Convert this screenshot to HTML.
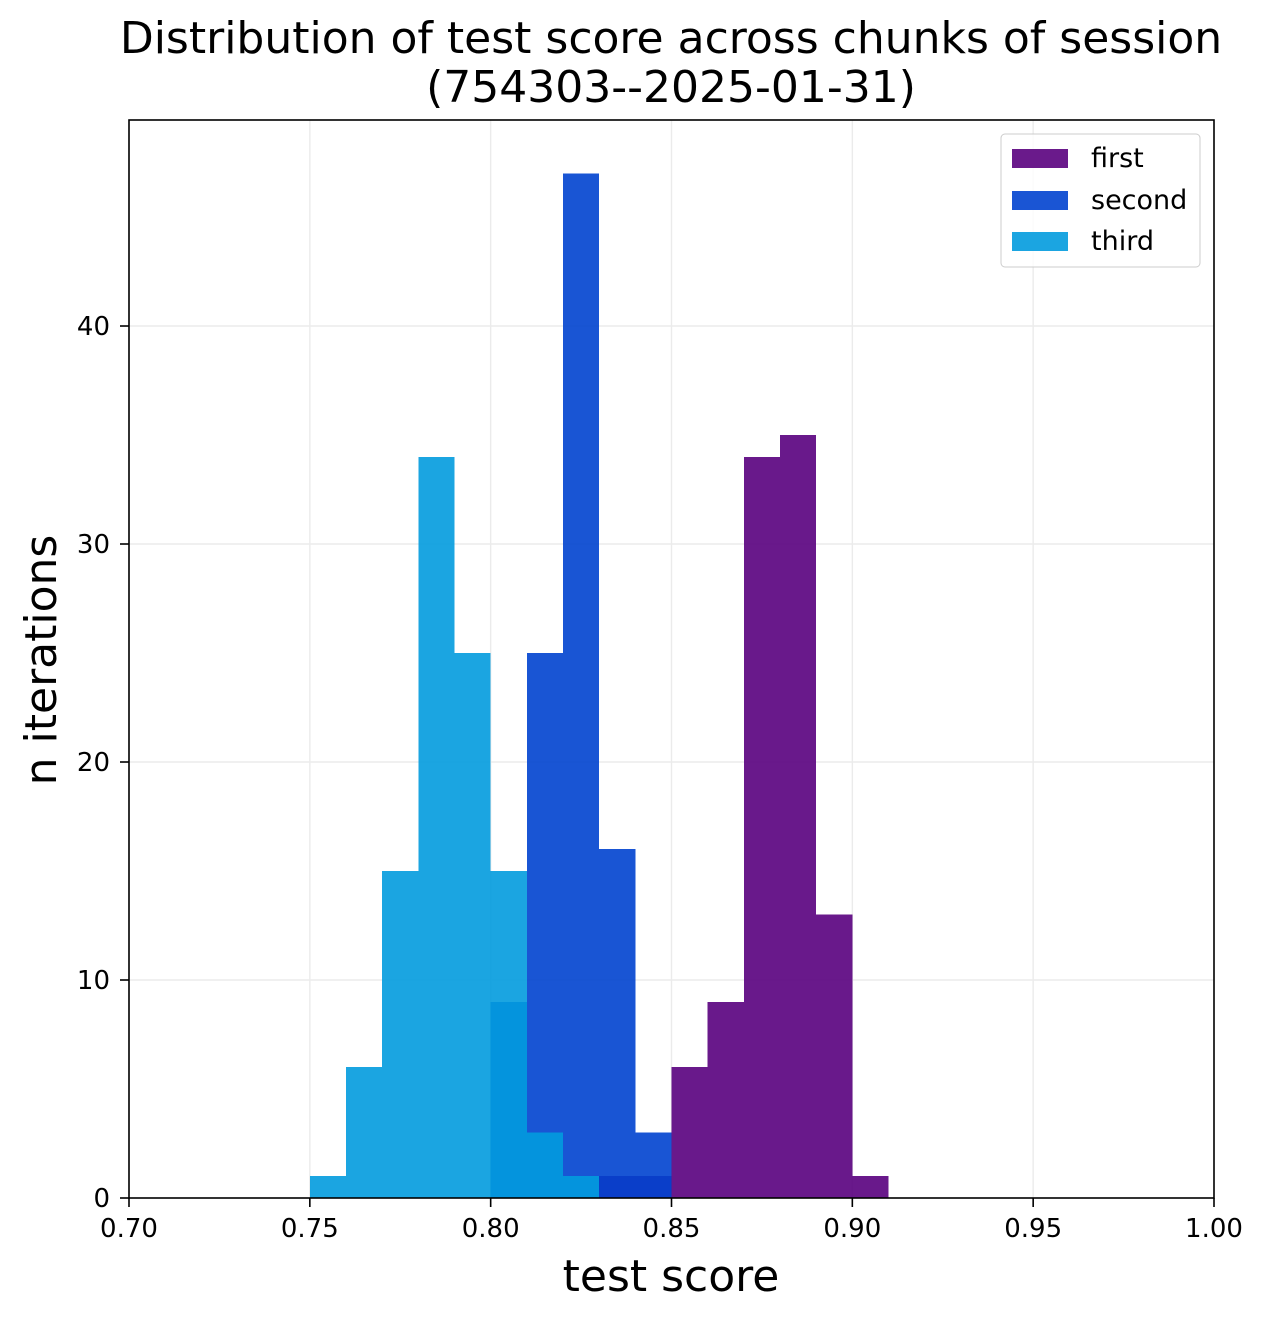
<!DOCTYPE html>
<html><head><meta charset="utf-8"><style>
body{margin:0;background:#fff;}
svg text{font-family:"DejaVu Sans","Liberation Sans",sans-serif;}
</style></head><body>
<svg id="chart" width="1265" height="1320" xmlns="http://www.w3.org/2000/svg">
<text x="671" y="53" font-size="44" text-anchor="middle">Distribution of test score across chunks of session</text>
<text x="671" y="102" font-size="44" text-anchor="middle">(754303--2025-01-31)</text>
<g id="grid"></g>
<g id="bars" shape-rendering="crispEdges"></g>
<rect x="129" y="120" width="1085" height="1078" fill="none" stroke="#000" stroke-width="1.6"/>
<g id="ticks"></g>
<text x="671" y="1291" font-size="44" text-anchor="middle">test score</text>
<text transform="translate(56,660) rotate(-90)" font-size="44" text-anchor="middle">n iterations</text>
<g>
<rect x="1001" y="134" width="199" height="133" rx="4" fill="#fff" fill-opacity="0.8" stroke="#ccc"/>
<g><rect x="1012" y="149" width="56" height="19" fill="#6a1a8b"/><text x="1091" y="167" font-size="27">first</text></g>
<g><rect x="1012" y="191" width="56" height="19" fill="#1a55d4"/><text x="1091" y="209" font-size="27">second</text></g>
<g><rect x="1012" y="232" width="56" height="19" fill="#1ba5e1"/><text x="1091" y="250" font-size="27">third</text></g>
</g>
</svg>
<script>
const binStarts=[0.75,0.76,0.77,0.78,0.79,0.80,0.81,0.82,0.83,0.84,0.85,0.86,0.87,0.88,0.89,0.90];
const firstCounts=[0,0,0,0,0,0,0,0,1,1,6,9,34,35,13,1];
const secondCounts=[0,0,0,0,0,9,25,47,16,3,0,0,0,0,0,0];
const thirdCounts=[1,6,15,34,25,15,3,1,0,0,0,0,0,0,0,0];
const xTicks=[0.70,0.75,0.80,0.85,0.90,0.95,1.00];
const yTicks=[0,10,20,30,40];
const binWidth=0.01;
const X0=129,X1=1214,Y0=1198,Y1=120;
const xMin=0.70,xMax=1.00,yMin=0,yMax=49.45;
const xs=v=>X0+(v-xMin)/(xMax-xMin)*(X1-X0);
const ys=v=>Y0-(v-yMin)/(yMax-yMin)*(Y0-Y1);
const NS="http://www.w3.org/2000/svg";
function mk(tag,attrs,parent){const e=document.createElementNS(NS,tag);for(const k in attrs)e.setAttribute(k,attrs[k]);parent.appendChild(e);return e;}
const grid=document.getElementById('grid'),bars=document.getElementById('bars'),ticks=document.getElementById('ticks');
xTicks.forEach(t=>{
  const g=mk('line',{x1:xs(t),x2:xs(t),y1:Y1,y2:Y0,stroke:'#ebebeb','stroke-width':1.4},grid);
  
  
  const tk=mk('line',{x1:xs(t),x2:xs(t),y1:Y0,y2:Y0+9,stroke:'#000','stroke-width':1.6},ticks);
  
  
  const tx=mk('text',{x:xs(t),y:Y0+39,'font-size':26,'text-anchor':'middle'},ticks);
  tx.textContent=t.toFixed(2);
  
  
});
yTicks.forEach(t=>{
  if(t>0){const g=mk('line',{x1:X0,x2:X1,y1:ys(t),y2:ys(t),stroke:'#ebebeb','stroke-width':1.4},grid);
  
  }
  const tk=mk('line',{x1:X0-9,x2:X0,y1:ys(t),y2:ys(t),stroke:'#000','stroke-width':1.6},ticks);
  
  
  const tx=mk('text',{x:X0-19,y:ys(t)+9,'font-size':26,'text-anchor':'end'},ticks);
  tx.textContent=t;
  
  
});
const series=[['first',firstCounts,'#59007e'],['second',secondCounts,'#0042cf'],['third',thirdCounts,'#029bde']];
series.forEach(([name,counts,col])=>{
  counts.forEach((c,i)=>{
    if(c<=0)return;
    const b=binStarts[i];
    const r=mk('rect',{x:xs(b),y:ys(c),width:xs(b+binWidth)-xs(b),height:ys(0)-ys(c),fill:col,'fill-opacity':0.9},bars);
    
    
  });
});
</script>
</body></html>
